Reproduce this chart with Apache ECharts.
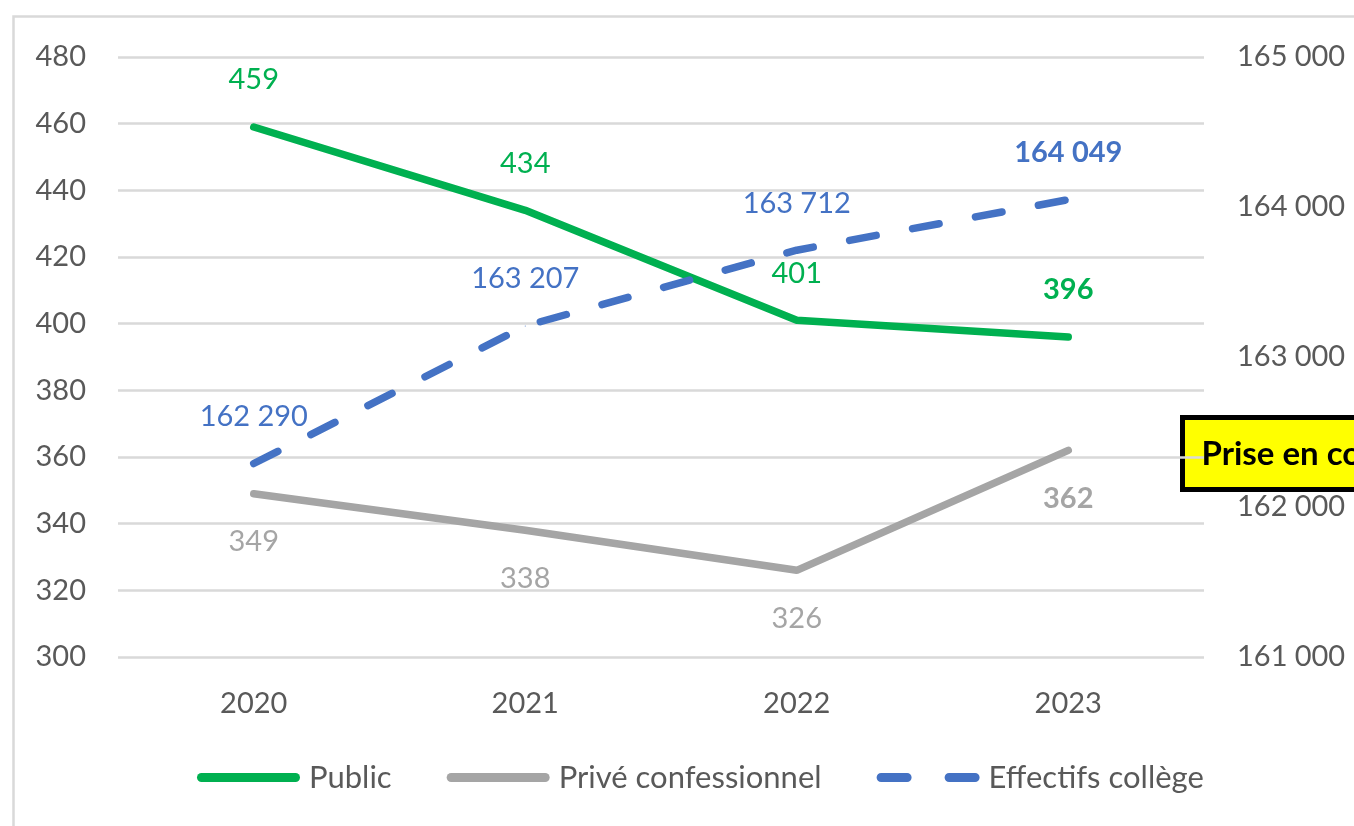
<!DOCTYPE html>
<html>
<head>
<meta charset="utf-8">
<script src="https://cdn.jsdelivr.net/npm/echarts@6/dist/echarts.min.js"></script>
<style>
  html, body { margin: 0; padding: 0; background: #fff; }
  #main { width: 1354px; height: 826px; }
</style>
</head>
<body>
<div id="main"></div>
<script>
// data
var years = ['2020', '2021', '2022', '2023'];
var publicVals = [459, 434, 401, 396];
var priveVals = [349, 338, 326, 362];
var effectifs = [162290, 163207, 163712, 164049];

var FONT = 'Lato';

function spaced(v) {
    return String(v).replace(/\B(?=(\d{3})+(?!\d))/g, '\u202f');
}

// last point of each series is bold in the original
function withBold(arr) {
    return arr.map(function (v, i) {
        if (i === arr.length - 1) {
            return { value: v, label: { fontWeight: 'bold' } };
        }
        return v;
    });
}

// legend icons: solid rounded bar, and two rounded dashes
var solidIcon = 'path://M4.5,0 H98.5 A4.5,4.5 0 0 1 98.5,9 H4.5 A4.5,4.5 0 0 1 4.5,0 Z';
var dashIcon = 'path://M4.5,0 H30.5 A4.5,4.5 0 0 1 30.5,9 H4.5 A4.5,4.5 0 0 1 4.5,0 Z ' +
    'M72.5,0 H98.5 A4.5,4.5 0 0 1 98.5,9 H72.5 A4.5,4.5 0 0 1 72.5,0 Z';

var myChart = echarts.init(document.getElementById('main'));

var option = {
    backgroundColor: '#fff',
    textStyle: { fontFamily: FONT },
    grid: { left: 118, right: 150, top: 57, bottom: 169 },
    legend: {
        left: 192,
        top: 757,
        itemWidth: 103,
        itemHeight: 9,
        itemGap: 55,
        textStyle: { fontFamily: FONT, fontSize: 31, color: '#595959', padding: [0, 0, 0, 4] },
        data: [
            { name: 'Public', icon: solidIcon },
            { name: 'Privé confessionnel', icon: solidIcon },
            { name: 'Effectifs collège', icon: dashIcon }
        ]
    },
    xAxis: {
        type: 'category',
        data: years,
        axisLine: { show: false },
        axisTick: { show: false },
        axisLabel: { fontFamily: FONT, fontSize: 29, color: '#595959', margin: 32 }
    },
    yAxis: [{
        type: 'value',
        min: 300,
        max: 480,
        interval: 20,
        axisLine: { show: false },
        axisTick: { show: false },
        axisLabel: { fontFamily: FONT, fontSize: 29, color: '#595959', margin: 32 },
        splitLine: { lineStyle: { color: '#d9d9d9', width: 2.5 } }
    }, {
        type: 'value',
        min: 161000,
        max: 165000,
        interval: 1000,
        position: 'right',
        axisLine: { show: false },
        axisTick: { show: false },
        splitLine: { show: false },
        axisLabel: {
            fontFamily: FONT, fontSize: 29, color: '#595959', margin: 33,
            formatter: function (v) { return spaced(v); }
        }
    }],
    series: [{
        name: 'Public',
        type: 'line',
        data: withBold(publicVals),
        symbol: 'circle',
        symbolSize: 1,
        lineStyle: { color: '#00b050', width: 7.5, cap: 'round' },
        itemStyle: { color: '#00b050' },
        label: { show: true, position: 'top', distance: 32, fontFamily: FONT, fontSize: 29, color: '#00b050' },
        z: 3
    }, {
        name: 'Privé confessionnel',
        type: 'line',
        data: withBold(priveVals),
        symbol: 'circle',
        symbolSize: 1,
        lineStyle: { color: '#a5a5a5', width: 7.5, cap: 'round' },
        itemStyle: { color: '#a5a5a5' },
        label: { show: true, position: 'bottom', distance: 33, fontFamily: FONT, fontSize: 29, color: '#a5a5a5' },
        z: 2
    }, {
        name: 'Effectifs collège',
        type: 'line',
        yAxisIndex: 1,
        data: withBold(effectifs),
        symbol: 'circle',
        symbolSize: 1,
        lineStyle: { color: '#4472c4', width: 7.5, type: [27, 37], cap: 'round' },
        itemStyle: { color: '#4472c4' },
        label: {
            show: true, position: 'top', distance: 32, fontFamily: FONT, fontSize: 29, color: '#4472c4',
            formatter: function (p) { return spaced(p.value); }
        },
        z: 4
    }],
    graphic: [{
        type: 'rect',
        left: 11,
        top: 14,
        shape: { width: 1500, height: 900 },
        style: { fill: 'none', stroke: '#d9d9d9', lineWidth: 2.5 },
        silent: true,
        z: -1
    }, {
        type: 'group',
        left: 1180,
        top: 415,
        children: [{
            type: 'rect',
            shape: { x: 0, y: 0, width: 400, height: 72 },
            style: { fill: '#ffff00', stroke: '#000', lineWidth: 5 }
        }, {
            type: 'text',
            x: 19,
            y: 37,
            style: {
                text: 'Prise en compte',
                fontFamily: FONT,
                fontWeight: 'bold',
                fontSize: 33,
                fill: '#000',
                verticalAlign: 'middle'
            }
        }]
    }]
};

myChart.setOption(option);
</script>
</body>
</html>
